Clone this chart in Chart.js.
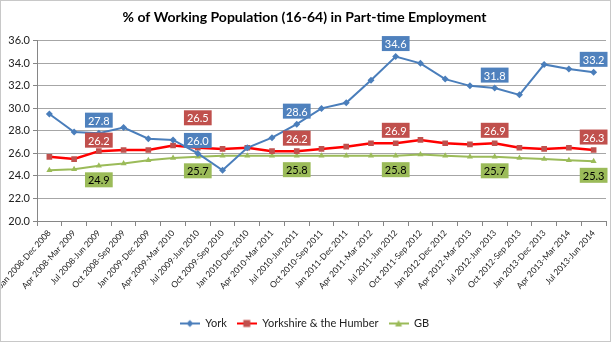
<!DOCTYPE html>
<html>
<head>
<meta charset="utf-8">
<script src="https://cdn.jsdelivr.net/npm/chart.js@4"></script>
<style>
  html, body { margin: 0; padding: 0; background: #fff; }
  #box { width: 611px; height: 342px; box-sizing: border-box; border: 1px solid #c8c8c8; }
</style>
</head>
<body>
<div id="box"><canvas id="grafico" width="609" height="340"></canvas></div>
<script>
const periodos = [
    'Jan 2008-Dec 2008', 'Apr 2008-Mar 2009', 'Jul 2008-Jun 2009', 'Oct 2008-Sep 2009',
    'Jan 2009-Dec 2009', 'Apr 2009-Mar 2010', 'Jul 2009-Jun 2010', 'Oct 2009-Sep 2010',
    'Jan 2010-Dec 2010', 'Apr 2010-Mar 2011', 'Jul 2010-Jun 2011', 'Oct 2010-Sep 2011',
    'Jan 2011-Dec 2011', 'Apr 2011-Mar 2012', 'Jul 2011-Jun 2012', 'Oct 2011-Sep 2012',
    'Jan 2012-Dec 2012', 'Apr 2012-Mar 2013', 'Jul 2012-Jun 2013', 'Oct 2012-Sep 2013',
    'Jan 2013-Dec 2013', 'Apr 2013-Mar 2014', 'Jul 2013-Jun 2014'
];
const york = [29.5, 27.9, 27.8, 28.3, 27.3, 27.2, 26.0, 24.5, 26.5, 27.4, 28.6, 30.0,
    30.5, 32.5, 34.6, 34.0, 32.6, 32.0, 31.8, 31.2, 33.9, 33.5, 33.2];
const yorkshire = [25.7, 25.5, 26.2, 26.3, 26.3, 26.7, 26.5, 26.4, 26.5, 26.2, 26.2, 26.4,
    26.6, 26.9, 26.9, 27.2, 26.9, 26.8, 26.9, 26.5, 26.4, 26.5, 26.3];
const gb = [24.5, 24.6, 24.9, 25.1, 25.4, 25.6, 25.7, 25.8, 25.8, 25.8, 25.8, 25.8,
    25.8, 25.8, 25.8, 25.9, 25.8, 25.7, 25.7, 25.6, 25.5, 25.4, 25.3];
const yMin = 20, yMax = 36, yPasso = 2;
// pontos com rotulo de valor
const rotulos = [2, 6, 10, 14, 18, 22];

const fonte = 'Lato';

function iconeLegenda(cor, corMarca, estilo) {
    const c = document.createElement('canvas');
    c.width = 20; c.height = 10;
    const g = c.getContext('2d');
    g.strokeStyle = cor; g.lineWidth = 2;
    g.beginPath(); g.moveTo(0, 5); g.lineTo(20, 5); g.stroke();
    g.fillStyle = corMarca;
    g.beginPath();
    if (estilo === 'rectRot') {
        g.moveTo(10, 1.5); g.lineTo(13.5, 5); g.lineTo(10, 8.5); g.lineTo(6.5, 5);
    } else if (estilo === 'rect') {
        g.rect(6.5, 1.5, 7, 7);
    } else {
        g.moveTo(10, 1.5); g.lineTo(13.5, 8); g.lineTo(6.5, 8);
    }
    g.closePath(); g.fill();
    return c;
}

const rotuloPlugin = {
    id: 'rotulos',
    afterDatasetsDraw(chart) {
        const ctx = chart.ctx;
        ctx.save();
        ctx.font = '11px ' + fonte;
        ctx.textAlign = 'center';
        ctx.textBaseline = 'middle';
        chart.data.datasets.forEach((ds, i) => {
            const meta = chart.getDatasetMeta(i);
            rotulos.forEach(idx => {
                const p = meta.data[idx];
                let dy = ds.rotuloDy;
                if (ds.rotuloAjuste && ds.rotuloAjuste[idx] !== undefined) dy = ds.rotuloAjuste[idx];
                const txt = ds.data[idx].toFixed(1);
                const w = ctx.measureText(txt).width + 6;
                const h = 15;
                ctx.fillStyle = ds.rotuloFundo;
                ctx.fillRect(p.x - w / 2, p.y + dy - h / 2, w, h);
                ctx.fillStyle = ds.rotuloCor;
                ctx.fillText(txt, p.x, p.y + dy + 1);
            });
        });
        ctx.restore();
    }
};

const ctx = document.getElementById('grafico');
const myChart = new Chart(ctx, {
    type: 'line',
    data: {
        labels: periodos,
        datasets: [{
            label: 'York',
            data: york,
            borderColor: '#4A7EBB',
            backgroundColor: '#4A7EBB',
            borderWidth: 2,
            pointStyle: 'rectRot',
            pointRadius: 3.5,
            pointBorderWidth: 0,
            tension: 0,
            rotuloDy: -13,
            rotuloFundo: '#4F81BD',
            rotuloCor: '#ffffff',
            icone: iconeLegenda('#4A7EBB', '#4A7EBB', 'rectRot')
        }, {
            label: 'Yorkshire & the Humber',
            data: yorkshire,
            borderColor: '#FF0000',
            backgroundColor: '#C0504D',
            borderWidth: 2.5,
            pointStyle: 'rect',
            pointRadius: 4,
            pointBorderWidth: 0,
            tension: 0,
            rotuloDy: -13,
            rotuloAjuste: { 2: -11, 6: -30 },
            rotuloFundo: '#C0504D',
            rotuloCor: '#ffffff',
            icone: iconeLegenda('#FF0000', '#C0504D', 'rect')
        }, {
            label: 'GB',
            data: gb,
            borderColor: '#9BBB59',
            backgroundColor: '#9BBB59',
            borderWidth: 2,
            pointStyle: 'triangle',
            pointRadius: 3.5,
            pointBorderWidth: 0,
            tension: 0,
            rotuloDy: 14,
            rotuloFundo: '#9BBB59',
            rotuloCor: '#000000',
            icone: iconeLegenda('#9BBB59', '#9BBB59', 'triangle')
        }]
    },
    options: {
        responsive: false,
        animation: false,
        layout: { padding: { left: 0, right: 2, top: 0, bottom: 2 } },
        scales: {
            y: {
                min: yMin,
                max: yMax,
                border: { color: '#868686' },
                grid: { color: '#A6A6A6', tickLength: 4, tickColor: '#868686' },
                ticks: {
                    stepSize: yPasso,
                    color: '#222',
                    padding: 3,
                    font: { size: 11, family: fonte },
                    callback: v => v.toFixed(1)
                },
                afterFit(scale) { scale.width = 36; }
            },
            x: {
                offset: true,
                border: { color: '#868686' },
                grid: { offset: true, drawOnChartArea: false, tickLength: 5, tickColor: '#868686' },
                ticks: {
                    autoSkip: false,
                    minRotation: 48,
                    maxRotation: 48,
                    color: '#222',
                    padding: 2,
                    font: { size: 8.5, family: fonte }
                },
                afterFit(scale) {
                    scale.height = 87;
                    scale.paddingLeft = 0;
                }
            }
        },
        plugins: {
            title: {
                display: true,
                text: '% of Working Population (16-64) in Part-time Employment',
                color: '#000',
                padding: { top: 8, bottom: 15 },
                font: { size: 14, family: fonte, weight: 'bold' }
            },
            legend: {
                position: 'bottom',
                labels: {
                    usePointStyle: true,
                    pointStyleWidth: 20,
                    padding: 10,
                    color: '#222',
                    font: { size: 11, family: fonte },
                    generateLabels(chart) {
                        return chart.data.datasets.map((ds, i) => ({
                            text: ds.label,
                            pointStyle: ds.icone,
                            fontColor: '#222',
                            datasetIndex: i,
                            hidden: false,
                            lineWidth: 0
                        }));
                    }
                }
            },
            tooltip: { enabled: false }
        }
    },
    plugins: [rotuloPlugin]
});
</script>
</body>
</html>
